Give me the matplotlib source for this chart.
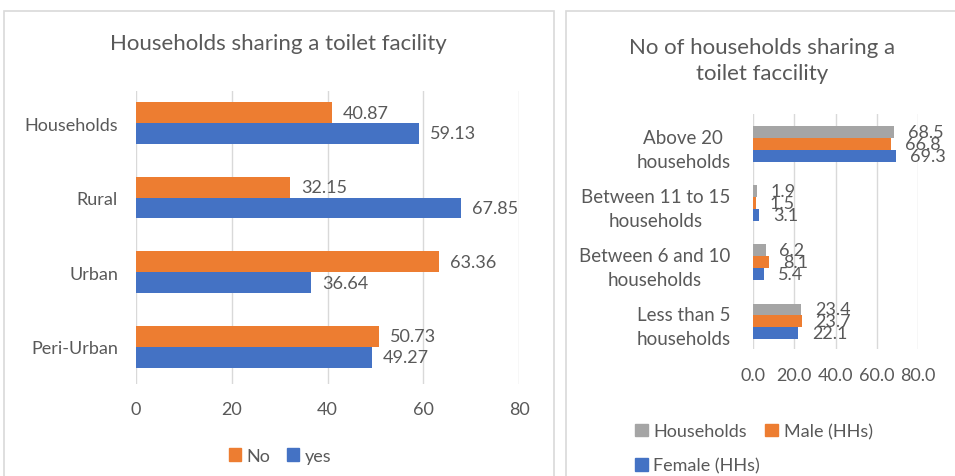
import matplotlib
matplotlib.use('Agg')
import matplotlib.pyplot as plt
from matplotlib.patches import Rectangle, Patch

plt.rcParams['font.family'] = ['Lato', 'DejaVu Sans']

TEXT = '#595959'
GRID = '#d9d9d9'
ORANGE = '#ED7D31'
BLUE = '#4472C4'
GREY = '#A5A5A5'

# left panel: share of households sharing a toilet, by area
areas = ['Households', 'Rural', 'Urban', 'Peri-Urban']
share_no = [40.87, 32.15, 63.36, 50.73]
share_yes = [59.13, 67.85, 36.64, 49.27]

# right panel: number of households sharing a facility
group_sizes = ['Above 20\nhouseholds', 'Between 11 to 15\nhouseholds',
               'Between 6 and 10\nhouseholds', 'Less than 5\nhouseholds']
hh_all = [68.5, 1.9, 6.2, 23.4]
hh_male = [66.8, 1.5, 8.1, 23.7]
hh_female = [69.3, 3.1, 5.4, 22.1]

x_ticks = [0, 20, 40, 60, 80]

W, H = 955, 477
fig = plt.figure(figsize=(W / 100, H / 100), dpi=100)


def px_axes(x0, y0, x1, y1):
    return fig.add_axes([x0 / W, 1 - y1 / H, (x1 - x0) / W, (y1 - y0) / H])


def fx(x):
    return x / W


def fy(y):
    return 1 - y / H


def style(ax):
    for s in ax.spines.values():
        s.set_visible(False)
    ax.set_xlim(0, 80)
    ax.set_xticks(x_ticks)
    ax.grid(axis='x', color=GRID, lw=1)
    ax.set_axisbelow(True)
    ax.tick_params(length=0, colors=TEXT, labelsize=13)


# panel frames
for x0, x1 in [(4, 554), (566, 960)]:
    fig.patches.append(Rectangle((fx(x0), -0.02), fx(x1 - x0), fy(12) + 0.02,
                                 transform=fig.transFigure, fill=False,
                                 ec=GRID, lw=1.2))

# ---- left chart
ax1 = px_axes(136, 92, 519, 385)
style(ax1)
pos = list(range(len(areas)))
h = 0.28
b_no = ax1.barh([p - h / 2 for p in pos], share_no, height=h, color=ORANGE)
b_yes = ax1.barh([p + h / 2 for p in pos], share_yes, height=h, color=BLUE)
ax1.bar_label(b_no, fmt='%.2f', padding=8, color=TEXT, fontsize=13)
ax1.bar_label(b_yes, fmt='%.2f', padding=8, color=TEXT, fontsize=13)
ax1.set_ylim(3.5, -0.43)
ax1.set_yticks(pos)
ax1.set_yticklabels(areas)
ax1.tick_params(axis='y', pad=13)
ax1.tick_params(axis='x', pad=12)

fig.text(fx(278), fy(44), 'Households sharing a toilet facility',
         ha='center', va='center', fontsize=16, color=TEXT)
fig.legend([Patch(color=ORANGE), Patch(color=BLUE)], ['No', 'yes'],
           loc='center', bbox_to_anchor=(fx(280), fy(457)), ncol=2,
           frameon=False, fontsize=13, labelcolor=TEXT,
           handlelength=0.7, handleheight=0.7, handletextpad=0.3,
           columnspacing=0.9)

# ---- right chart
ax2 = px_axes(752.7, 115, 918.3, 350)
style(ax2)
pos = list(range(len(group_sizes)))
h = 0.2
b_all = ax2.barh([p - h for p in pos], hh_all, height=h, color=GREY)
b_male = ax2.barh(pos, hh_male, height=h, color=ORANGE)
b_female = ax2.barh([p + h for p in pos], hh_female, height=h, color=BLUE)
for bars in (b_all, b_male, b_female):
    ax2.bar_label(bars, fmt='%.1f', padding=10, color=TEXT, fontsize=13)
ax2.set_ylim(3.47, -0.51)
ax2.set_yticks(pos)
ax2.set_yticklabels(group_sizes, multialignment='center', linespacing=1.5,
                    fontsize=13.5)
ax2.set_xticklabels(['%.1f' % t for t in x_ticks])
ax2.tick_params(axis='y', pad=16)
ax2.tick_params(axis='x', pad=13)

fig.text(fx(762), fy(61), 'No of households sharing a\ntoilet faccility',
         ha='center', va='center', fontsize=16, color=TEXT, linespacing=1.4)
fig.legend([Patch(color=GREY), Patch(color=BLUE), Patch(color=ORANGE)],
           ['Households', 'Female (HHs)', 'Male (HHs)'],
           loc='upper left', bbox_to_anchor=(fx(619), fy(408)), ncol=2,
           frameon=False, fontsize=13, labelcolor=TEXT,
           handlelength=0.7, handleheight=0.7, handletextpad=0.3,
           columnspacing=0.3, labelspacing=1.0)

fig.savefig('out.png', dpi=100)
